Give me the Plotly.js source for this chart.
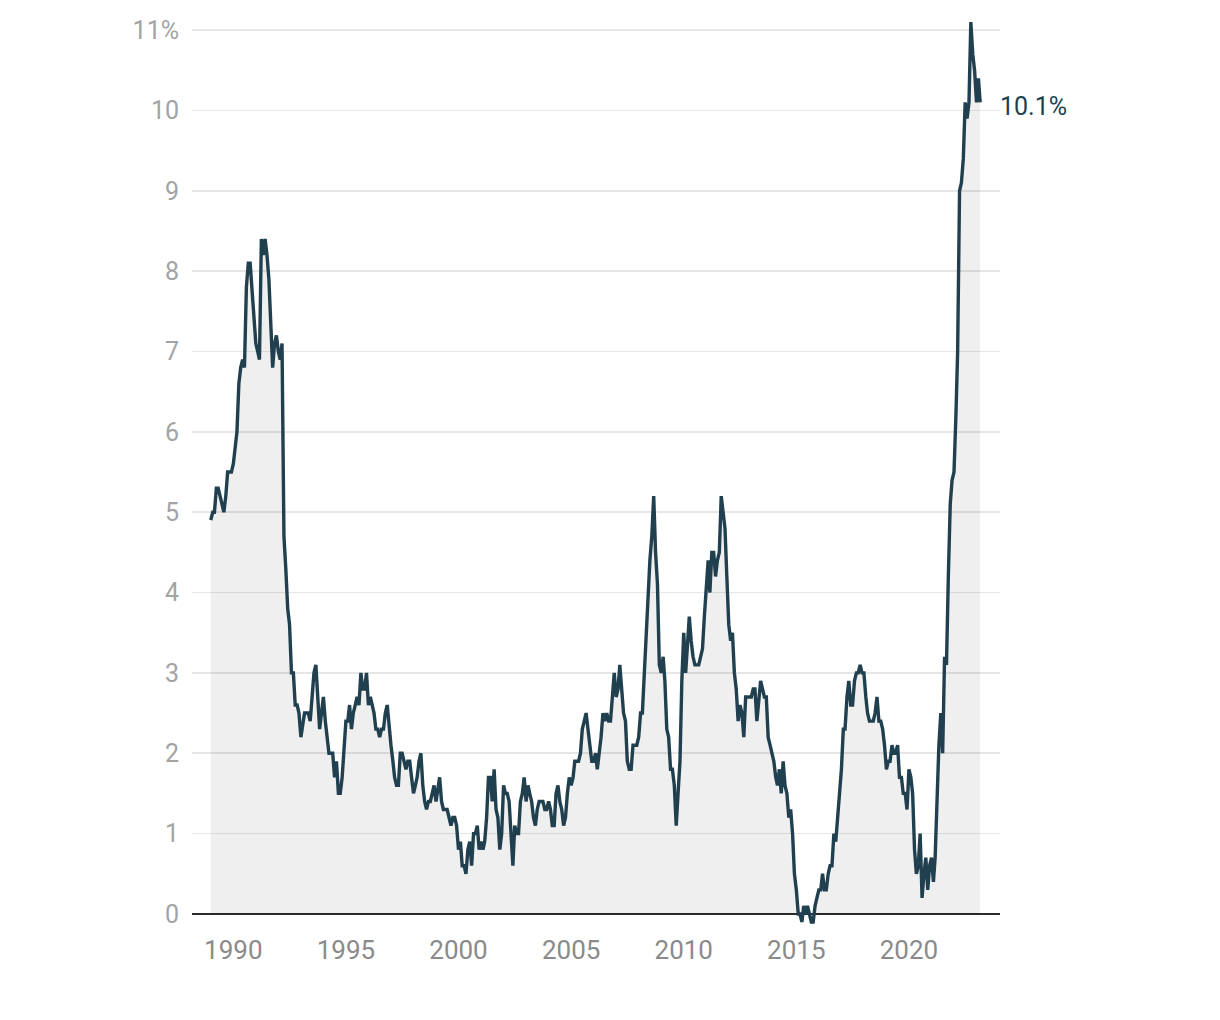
<!DOCTYPE html>
<html>
<head>
<meta charset="utf-8">
<script src="https://cdn.plot.ly/plotly-3.0.1.min.js"></script>
<style>
  html, body { margin: 0; padding: 0; background: #ffffff; }
  #chart { width: 1220px; height: 1020px; }
</style>
</head>
<body>
<div id="chart"></div>
<script>
// UK CPI annual inflation rate (%), monthly, Jan 1989 – Mar 2023
const startYear = 1989;
const cpi1989to1999 = [
  4.9, 5.0, 5.0, 5.3, 5.3, 5.2, 5.1, 5.0, 5.2, 5.5, 5.5, 5.5,
  5.6, 5.8, 6.0, 6.6, 6.8, 6.9, 6.8, 7.8, 8.1, 8.1, 7.8, 7.5,
  7.1, 7.0, 6.9, 8.4, 8.2, 8.4, 8.2, 7.9, 7.4, 6.8, 7.1, 7.2,
  7.0, 6.9, 7.1, 4.7, 4.3, 3.8, 3.6, 3.0, 3.0, 2.6, 2.6, 2.5,
  2.2, 2.4, 2.5, 2.5, 2.5, 2.4, 2.7, 3.0, 3.1, 2.7, 2.3, 2.5,
  2.7, 2.4, 2.2, 2.0, 2.0, 2.0, 1.7, 1.9, 1.5, 1.5, 1.7, 2.0,
  2.4, 2.4, 2.6, 2.3, 2.5, 2.6, 2.7, 2.6, 3.0, 2.8, 2.8, 3.0,
  2.6, 2.7, 2.6, 2.5, 2.3, 2.3, 2.2, 2.3, 2.3, 2.5, 2.6, 2.3,
  2.1, 1.9, 1.7, 1.6, 1.6, 2.0, 2.0, 1.9, 1.8, 1.9, 1.9, 1.7,
  1.5, 1.6, 1.7, 1.9, 2.0, 1.6, 1.4, 1.3, 1.4, 1.4, 1.5, 1.6,
  1.4, 1.6, 1.7, 1.4, 1.3, 1.3, 1.3, 1.2, 1.1, 1.2, 1.2, 1.1
];
const cpi2000to2009 = [
  0.8, 0.9, 0.6, 0.6, 0.5, 0.8, 0.9, 0.6, 1.0, 1.0, 1.1, 0.8,
  0.9, 0.8, 0.9, 1.2, 1.7, 1.7, 1.4, 1.8, 1.3, 1.2, 0.8, 1.0,
  1.6, 1.5, 1.5, 1.4, 1.0, 0.6, 1.1, 1.0, 1.0, 1.4, 1.5, 1.7,
  1.4, 1.6, 1.5, 1.4, 1.2, 1.1, 1.3, 1.4, 1.4, 1.4, 1.3, 1.3,
  1.4, 1.3, 1.1, 1.1, 1.5, 1.6, 1.4, 1.3, 1.1, 1.2, 1.5, 1.7,
  1.6, 1.7, 1.9, 1.9, 1.9, 2.0, 2.3, 2.4, 2.5, 2.3, 2.1, 1.9,
  1.9, 2.0, 1.8, 2.0, 2.2, 2.5, 2.4, 2.5, 2.4, 2.4, 2.7, 3.0,
  2.7, 2.8, 3.1, 2.8, 2.5, 2.4, 1.9, 1.8, 1.8, 2.1, 2.1, 2.1,
  2.2, 2.5, 2.5, 3.0, 3.3, 3.8, 4.4, 4.7, 5.2, 4.5, 4.1, 3.1,
  3.0, 3.2, 2.9, 2.3, 2.2, 1.8, 1.8, 1.6, 1.1, 1.5, 1.9, 2.9
];
const cpi2010to2019 = [
  3.5, 3.0, 3.4, 3.7, 3.4, 3.2, 3.1, 3.1, 3.1, 3.2, 3.3, 3.7,
  4.0, 4.4, 4.0, 4.5, 4.5, 4.2, 4.4, 4.5, 5.2, 5.0, 4.8, 4.2,
  3.6, 3.4, 3.5, 3.0, 2.8, 2.4, 2.6, 2.5, 2.2, 2.7, 2.7, 2.7,
  2.7, 2.8, 2.8, 2.4, 2.7, 2.9, 2.8, 2.7, 2.7, 2.2, 2.1, 2.0,
  1.9, 1.7, 1.6, 1.8, 1.5, 1.9, 1.6, 1.5, 1.2, 1.3, 1.0, 0.5,
  0.3, 0.0, 0.0, -0.1, 0.1, 0.0, 0.1, 0.0, -0.1, -0.1, 0.1, 0.2,
  0.3, 0.3, 0.5, 0.3, 0.3, 0.5, 0.6, 0.6, 1.0, 0.9, 1.2, 1.6,
  1.8, 2.3, 2.3, 2.7, 2.9, 2.6, 2.6, 2.9, 3.0, 3.0, 3.1, 3.0,
  3.0, 2.7, 2.5, 2.4, 2.4, 2.4, 2.5, 2.7, 2.4, 2.4, 2.3, 2.1,
  1.8, 1.9, 1.9, 2.1, 2.0, 2.0, 2.1, 1.7, 1.7, 1.5, 1.5, 1.3
];
const cpi2020to2023 = [
  1.8, 1.7, 1.5, 0.8, 0.5, 0.6, 1.0, 0.2, 0.5, 0.7, 0.3, 0.6,
  0.7, 0.4, 0.7, 1.5, 2.1, 2.5, 2.0, 3.2, 3.1, 4.2, 5.1, 5.4,
  5.5, 6.2, 7.0, 9.0, 9.1, 9.4, 10.1, 9.9, 10.1, 11.1, 10.7, 10.5,
  10.1, 10.4, 10.1
];
const xTickYears = [1990, 1995, 2000, 2005, 2010, 2015, 2020];
const xTickLabels = ['1990', '1995', '2000', '2005', '2010', '2015', '2020'];
const yTickValues = [0, 1, 2, 3, 4, 5, 6, 7, 8, 9, 10, 11];
const yTickLabels = ['0', '1', '2', '3', '4', '5', '6', '7', '8', '9', '10', '11%'];

const values = cpi1989to1999.concat(cpi2000to2009, cpi2010to2019, cpi2020to2023);
const dates = values.map((v, i) => {
  const y = startYear + Math.floor(i / 12);
  const m = (i % 12) + 1;
  return y + '-' + String(m).padStart(2, '0') + '-01';
});
const lastValue = values[values.length - 1];

const trace = {
  x: dates,
  y: values,
  type: 'scatter',
  mode: 'lines',
  fill: 'tozeroy',
  fillcolor: 'rgba(0,0,0,0.062)',
  line: { color: '#21404f', width: 3.4, shape: 'linear' },
  hoverinfo: 'x+y'
};

const layout = {
  width: 1220,
  height: 1020,
  margin: { l: 192, r: 220, t: 6, b: 90 },
  paper_bgcolor: '#ffffff',
  plot_bgcolor: '#ffffff',
  showlegend: false,
  font: { family: 'Roboto, "Open Sans", sans-serif' },
  xaxis: {
    type: 'date',
    range: ['1988-03-02', '2024-01-17'],
    tickvals: xTickYears.map(y => y + '-01-01'),
    ticktext: xTickLabels,
    showgrid: false,
    zeroline: false,
    showline: false,
    ticks: '',
    tickfont: { size: 26, color: '#8a8a8a', family: 'Roboto' },
    ticklabelstandoff: 2
  },
  yaxis: {
    range: [-0.2, 11.3],
    tickvals: yTickValues,
    ticktext: yTickLabels,
    showgrid: true,
    gridcolor: '#e6e6e6',
    gridwidth: 1.5,
    zeroline: true,
    zerolinecolor: '#2b2b2b',
    zerolinewidth: 2,
    showline: false,
    ticks: '',
    tickfont: { size: 25, color: '#a3a3a3', family: 'Roboto' },
    ticklabelstandoff: 12
  },
  annotations: [{
    x: 1,
    xref: 'paper',
    y: lastValue,
    yref: 'y',
    xanchor: 'left',
    yanchor: 'middle',
    xshift: -2,
    yshift: -4,
    text: lastValue.toFixed(1) + '%',
    showarrow: false,
    font: { size: 25, color: '#21404f', family: 'Roboto' }
  }]
};

Plotly.newPlot('chart', [trace], layout, { displayModeBar: false, staticPlot: true });
</script>
</body>
</html>
